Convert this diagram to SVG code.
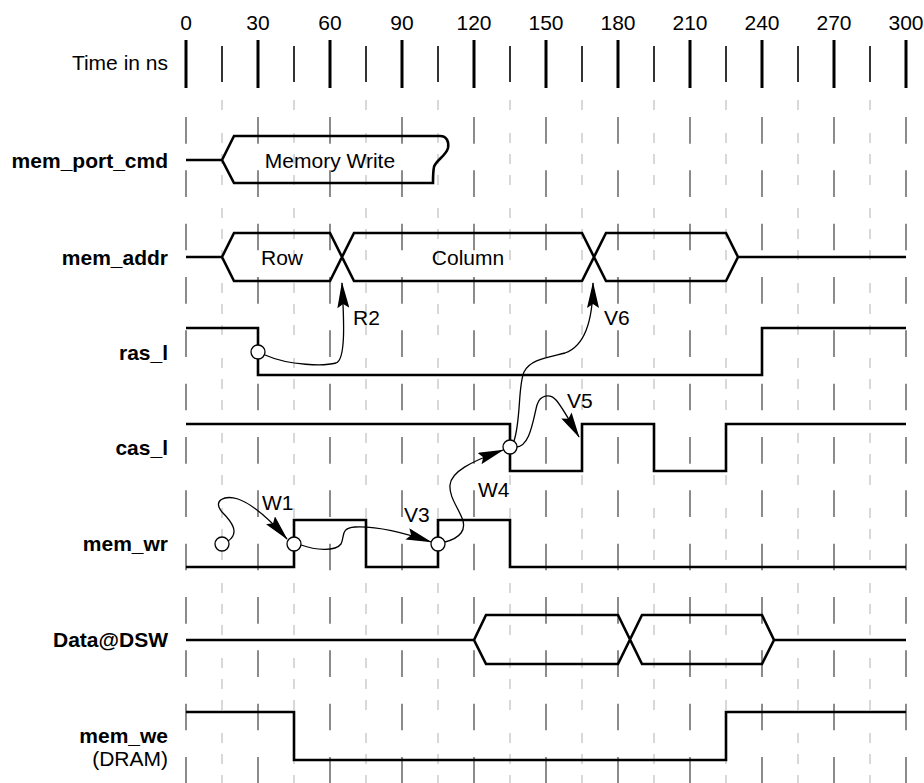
<svg xmlns="http://www.w3.org/2000/svg" width="924" height="783" viewBox="0 0 924 783">
<style>
text{font-family:"Liberation Sans",Arial,sans-serif;font-size:21px;fill:#000}
.lbl{font-weight:bold;text-anchor:end}
.reg{text-anchor:end}
.mid{text-anchor:middle}
.maj{stroke:#000;stroke-width:3}
.min{stroke:#333;stroke-width:2}
.gmaj{stroke:#6e6e6e;stroke-width:1.6;stroke-dasharray:26.67 26.66}
.gmin{stroke:#cfcfcf;stroke-width:1.6;stroke-dasharray:10 11 10 11 10 23;stroke-dashoffset:42}
.sig{fill:none;stroke:#000;stroke-width:2.6;stroke-linejoin:miter}
.con{fill:none;stroke:#000;stroke-width:1.3;marker-end:url(#ah)}
.dot{fill:#fff;stroke:#000;stroke-width:1.3}
</style>
<defs>
<marker id="ah" markerUnits="userSpaceOnUse" markerWidth="26" markerHeight="12" viewBox="0 0 26 12" refX="25" refY="6" orient="auto">
<path d="M0,0 L26,6 L0,12 L4,6 Z" fill="#000"/>
</marker>
</defs>
<rect width="924" height="783" fill="#fff"/>
<g id="grid">
<path class="gmin" d="M222 100V783M294 100V783M366 100V783M438 100V783M510 100V783M582 100V783M654 100V783M726 100V783M798 100V783M870 100V783"/>
<path class="gmaj" d="M186 117V783M258 117V783M330 117V783M402 117V783M474 117V783M546 117V783M618 117V783M690 117V783M762 117V783M834 117V783M906 117V783"/>
</g>
<g id="time">
<text class="reg" x="168" y="70">Time in ns</text>
<path class="maj" d="M186 40V88M258 40V88M330 40V88M402 40V88M474 40V88M546 40V88M618 40V88M690 40V88M762 40V88M834 40V88M906 40V88"/>
<path class="min" d="M222 46V82M294 46V82M366 46V82M438 46V82M510 46V82M582 46V82M654 46V82M726 46V82M798 46V82M870 46V82"/>
<text class="mid" x="186" y="30">0</text>
<text class="mid" x="258" y="30">30</text>
<text class="mid" x="330" y="30">60</text>
<text class="mid" x="402" y="30">90</text>
<text class="mid" x="474" y="30">120</text>
<text class="mid" x="546" y="30">150</text>
<text class="mid" x="618" y="30">180</text>
<text class="mid" x="690" y="30">210</text>
<text class="mid" x="762" y="30">240</text>
<text class="mid" x="834" y="30">270</text>
<text class="mid" x="906" y="30">300</text>
</g>
<g id="mem_port_cmd">
<text class="lbl" x="168" y="168">mem_port_cmd</text>
<path class="sig" d="M186 160H222L234 136H440C447 136 449 142 448 148C446 156 436 160 434 167C433 172 433 178 433 183H234L222 160Z" fill="#fff"/>
<text class="mid" x="330" y="168">Memory Write</text>
</g>
<g id="mem_addr">
<text class="lbl" x="168" y="265">mem_addr</text>
<path class="sig" d="M186 257H222M222 257L234 233H330L354 281H582L606 233H726L738 257L726 281H606L582 233H354L330 281H234Z M738 257H906"/>
<text class="mid" x="282" y="265">Row</text>
<text class="mid" x="468" y="265">Column</text>
</g>
<g id="ras_l">
<text class="lbl" x="168" y="360">ras_l</text>
<path class="sig" d="M186 328H258V375H762V328H906"/>
</g>
<g id="cas_l">
<text class="lbl" x="168" y="455">cas_l</text>
<path class="sig" d="M186 424H510V471H582V424H654V471H726V424H906"/>
</g>
<g id="mem_wr">
<text class="lbl" x="168" y="551">mem_wr</text>
<path class="sig" d="M186 567H294V520H366V567H438V520H510V567H906"/>
</g>
<g id="data_dsw">
<text class="lbl" x="168" y="647">Data@DSW</text>
<path class="sig" d="M186 640H474M474 640L486 615H618L642 664H762L774 640L762 615H642L618 664H486Z M774 640H906"/>
</g>
<g id="mem_we">
<text class="lbl" x="168" y="743">mem_we</text>
<text class="reg" x="168" y="766">(DRAM)</text>
<path class="sig" d="M186 712H294V760H726V712H906"/>
</g>
<g id="connectors">
<path id="c-r2" class="con" d="M265 355C290 366 325 366 336 363C346 360 344 320 342 283"/>
<path id="c-v6" class="con" d="M514 441C521 420 518 385 524 372C530 360 545 358 565 353C585 346 593 320 593 283"/>
<path id="c-v5" class="con" d="M516 447C530 447 533 420 537 405C540 395 550 393 556 400C563 408 572 425 579 437"/>
<path id="c-w1" class="con" d="M228 541C240 533 232 522 222 512C212 500 225 495 238 499C255 505 272 522 287 539"/>
<path id="c-v3" class="con" d="M301 545C315 550 335 552 341 544C345 536 340 528 355 527C375 526 405 533 431 542"/>
<path id="c-w4" class="con" d="M445 542C460 538 467 530 462 518C457 506 449 496 450 485C451 472 470 462 503 450"/>
<text x="353" y="325">R2</text>
<text x="604" y="325">V6</text>
<text x="567" y="408">V5</text>
<text x="262" y="510">W1</text>
<text x="404" y="522">V3</text>
<text x="478" y="497">W4</text>
</g>
<g id="events">
<circle class="dot" cx="258" cy="352" r="7"/>
<circle class="dot" cx="510" cy="447" r="7"/>
<circle class="dot" cx="222" cy="544" r="7"/>
<circle class="dot" cx="294" cy="544" r="7"/>
<circle class="dot" cx="438" cy="544" r="7"/>
</g>
</svg>
